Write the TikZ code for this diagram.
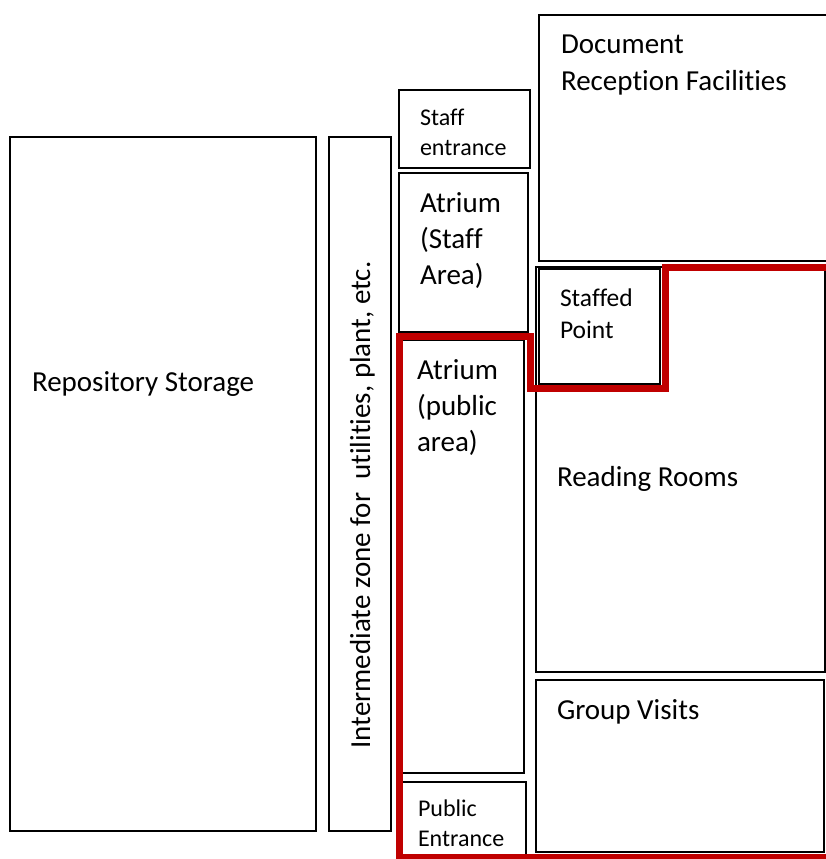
\documentclass[tikz,border=0pt]{standalone}
\usepackage{fontspec}
\setmainfont{Carlito}[Ligatures={NoCommon}]
\definecolor{wallred}{HTML}{C00000}
\begin{document}
\begin{tikzpicture}[x=1pt,y=-1pt,
  room/.style={draw=black,line width=1.6pt,rectangle,inner sep=0pt,outer sep=0pt,anchor=north west},
  lbl/.style={inner sep=0pt,outer sep=0pt,anchor=base west,align=left},
  big/.style={font=\fontsize{29}{36}\selectfont},
  small/.style={font=\fontsize{24}{30}\selectfont},
  mid/.style={font=\fontsize{25.5}{32}\selectfont},
  route/.style={draw=wallred,line width=7pt,line join=miter}]
\useasboundingbox (0,0) rectangle (826,859);
\fill[white] (0,0) rectangle (826,859);
% rooms
\node[room,minimum width=306pt,minimum height=694pt] (repo) at (10,137) {};
\node[room,minimum width=62pt,minimum height=694pt] (inter) at (329,137) {};
\node[room,minimum width=131pt,minimum height=78pt] (staffent) at (399,90) {};
\node[room,minimum width=129pt,minimum height=159pt] (atrstaff) at (399,173) {};
\node[room,minimum width=122pt,minimum height=433pt] (atrpub) at (402,340) {};
\node[room,minimum width=124pt,minimum height=73pt] (pubent) at (402,782) {};
\node[room,minimum width=288pt,minimum height=246pt] (docrec) at (539,15) {};
\node[room,minimum width=289pt,minimum height=405pt] (reading) at (536,267) {};
\node[room,minimum width=121pt,minimum height=115pt] (staffpt) at (539,269) {};
\node[room,minimum width=288pt,minimum height=172pt] (group) at (536,680) {};
% labels (anchor = baseline of the last line)
\node[lbl,big] (trepo) at (32,391) {Repository Storage};
\node[big,inner sep=0pt,rotate=90,anchor=base] (tinter) at (370,505) {Intermediate zone for\ \ utilities, plant, etc.};
\node[lbl,small] (tstaffent) at (420,155) {Staff\\entrance};
\node[lbl,big] (tatrstaff) at (420,284) {Atrium\\(Staff\\Area)};
\node[lbl,big] (tatrpub) at (417,451) {Atrium\\(public\\area)};
\node[lbl,small] (tpubent) at (418,846) {Public\\Entrance};
\node[lbl,big] (tdocrec) at (561,90) {Document\\Reception Facilities};
\node[lbl,mid] (tstaffpt) at (560,338) {Staffed\\Point};
\node[lbl,big] (treading) at (557,486) {Reading Rooms};
\node[lbl,big] (tgroup) at (557,719) {Group Visits};
% public route
\coordinate (r0) at (399.5,862);
\coordinate (r1) at (399.5,336);
\coordinate (r2) at (530,336);
\coordinate (r3) at (530,388);
\coordinate (r4) at (665,388);
\coordinate (r5) at (665,267.5);
\coordinate (r6) at (830,267.5);
\coordinate (b0) at (396,857);
\coordinate (b1) at (830,857);
\draw[route] (r0) -- (r1) -- (r2) -- (r3) -- (r4) -- (r5) -- (r6);
\draw[route] (b0) -- (b1);
\end{tikzpicture}
\end{document}
